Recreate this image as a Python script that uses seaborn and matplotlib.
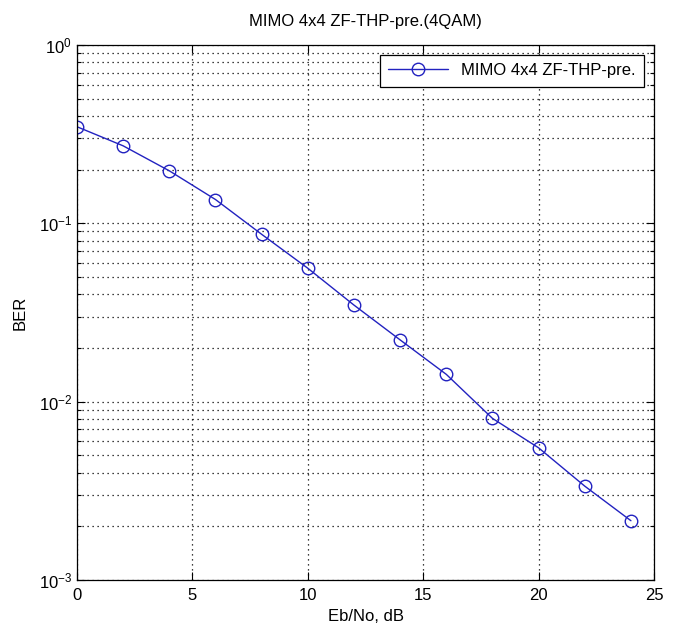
import matplotlib
matplotlib.use("Agg")
import matplotlib.pyplot as plt
import matplotlib.ticker as mticker
import seaborn as sns
import pandas as pd

ebno_db = [0, 2, 4, 6, 8, 10, 12, 14, 16, 18, 20, 22, 24]
ber = [0.348, 0.272, 0.197, 0.136, 0.0868, 0.0560, 0.0348, 0.0222,
       0.01423, 0.00806, 0.00551, 0.00336, 0.00215]
series_name = "MIMO 4x4 ZF-THP-pre."
title = "MIMO 4x4 ZF-THP-pre.(4QAM)"
xlabel = "Eb/No, dB"
ylabel = "BER"

df = pd.DataFrame({"EbNo": ebno_db, "BER": ber, "series": series_name})

sns.set_style("white")
plt.rcParams["font.family"] = ["Liberation Sans", "DejaVu Sans"]
plt.rcParams["mathtext.fontset"] = "custom"
plt.rcParams["mathtext.rm"] = "Liberation Sans"
plt.rcParams["font.size"] = 12
plt.rcParams["text.color"] = "black"
plt.rcParams["axes.labelcolor"] = "black"
plt.rcParams["xtick.color"] = "black"
plt.rcParams["ytick.color"] = "black"

fig = plt.figure(figsize=(6.75, 6.37), dpi=100)
ax = fig.add_axes([77 / 675, 1 - 580 / 637, (654 - 77) / 675, (580 - 45) / 637])

color = "#2222c0"
sns.lineplot(data=df, x="EbNo", y="BER", hue="series", palette=[color],
             marker="o", markersize=9, markerfacecolor="none",
             markeredgecolor=color, markeredgewidth=1.0, linewidth=1.0,
             ax=ax)

ax.set_yscale("log")
ax.set_xlim(0, 25)
ax.set_ylim(1e-3, 1e0)
ax.set_xticks([0, 5, 10, 15, 20, 25])
ax.yaxis.set_major_locator(mticker.LogLocator(base=10, numticks=10))
ax.yaxis.set_minor_locator(mticker.LogLocator(base=10, subs=range(2, 10), numticks=20))
ax.yaxis.set_minor_formatter(mticker.NullFormatter())

ax.grid(True, which="major", axis="both", color="black", linestyle=(0, (1, 3)), linewidth=0.9)
ax.grid(True, which="minor", axis="y", color="black", linestyle=(0, (1, 3)), linewidth=0.9)
ax.set_axisbelow(True)

for s in ax.spines.values():
    s.set_visible(True)
    s.set_color("black")
    s.set_linewidth(0.9)

ax.tick_params(which="both", direction="in", top=True, right=True,
               bottom=True, left=True, colors="black", labelcolor="black", labelsize=12)
ax.tick_params(which="major", length=6, width=0.8)
ax.tick_params(which="minor", length=3, width=0.8)
ax.tick_params(axis="x", pad=6)

ax.set_title(title, fontsize=12, pad=14, color="black")
ax.set_xlabel(xlabel, fontsize=12, labelpad=4, color="black")
ax.set_ylabel(ylabel, fontsize=12, labelpad=8, color="black")

leg = ax.legend(loc="upper right", fontsize=12, frameon=True, fancybox=False,
                edgecolor="black", framealpha=1.0, handlelength=3.6,
                borderaxespad=0.6, borderpad=0.5, labelcolor="black")
leg.get_frame().set_linewidth(0.9)

fig.savefig("out.png", dpi=100, facecolor="white")
